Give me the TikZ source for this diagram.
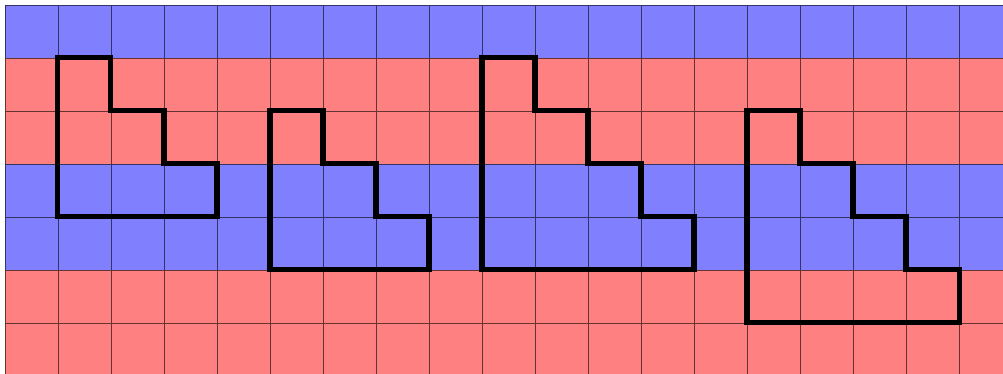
\documentclass[tikz,border=0pt]{standalone}
\usepackage{xcolor}
\usepackage{tikz}
\tikzset{
  bluerow/.style={fill=blue!50},
  redrow/.style={fill=red!50},
  gridline/.style={draw=black,opacity=0.6,line width=0.5pt},
  stair/.style={draw=black,line width=2.7pt,line join=miter},
}

\begin{document}
\begin{tikzpicture}
\useasboundingbox (-0.094,0.038) rectangle (18.83,7.094);
\clip (0,0) rectangle (18.83,7);
\foreach \y/\sty in {0/redrow,1/redrow,2/bluerow,3/bluerow,4/redrow,5/redrow,6/bluerow}
  \path[\sty] (0,\y) rectangle (19,\y+1);
\draw[gridline] (0,0) grid (19,7);
% staircases
\draw[stair] (1,6)--(1,3)--(4,3)--(4,4)--(3,4)--(3,5)--(2,5)--(2,6)--cycle;
\draw[stair] (5,5)--(5,2)--(8,2)--(8,3)--(7,3)--(7,4)--(6,4)--(6,5)--cycle;
\draw[stair] (9,6)--(9,2)--(13,2)--(13,3)--(12,3)--(12,4)--(11,4)--(11,5)--(10,5)--(10,6)--cycle;
\draw[stair] (14,5)--(14,1)--(18,1)--(18,2)--(17,2)--(17,3)--(16,3)--(16,4)--(15,4)--(15,5)--cycle;
\end{tikzpicture}
\end{document}
